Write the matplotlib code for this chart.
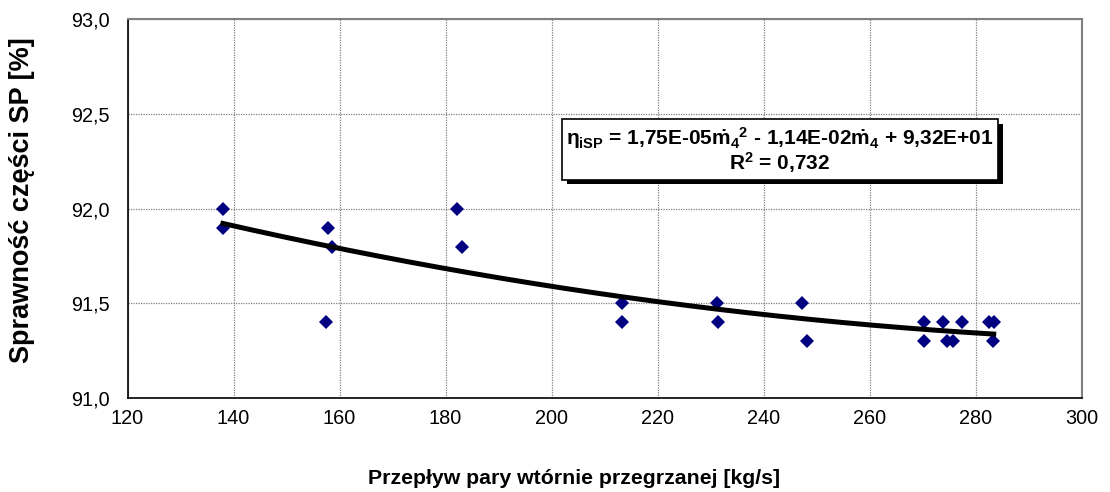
import matplotlib
matplotlib.use("Agg")
import matplotlib.pyplot as plt
import numpy as np
from matplotlib import patheffects

plt.rcParams["font.family"] = ["Liberation Sans", "DejaVu Sans"]
plt.rcParams["mathtext.fontset"] = "custom"
plt.rcParams["mathtext.rm"] = "Liberation Sans:bold"
plt.rcParams["mathtext.it"] = "Liberation Sans:bold"
plt.rcParams["mathtext.bf"] = "Liberation Sans:bold"

# Data
flow = [138.0, 138.0, 157.8, 158.5, 157.5, 182.2, 183.1, 213.2, 213.2, 231.2, 231.4,
        247.3, 248.1, 270.2, 270.2, 273.8, 274.5, 275.8, 277.5, 282.5, 283.4, 283.2]
efficiency = [92.0, 91.9, 91.9, 91.8, 91.4, 92.0, 91.8, 91.5, 91.4, 91.5, 91.4,
              91.5, 91.3, 91.4, 91.3, 91.4, 91.3, 91.3, 91.4, 91.4, 91.4, 91.3]

x_ticks = [120, 140, 160, 180, 200, 220, 240, 260, 280, 300]
y_ticks = [91.0, 91.5, 92.0, 92.5, 93.0]

x_label = "Przepływ pary wtórnie przegrzanej [kg/s]"
y_label = "Sprawność części SP [%]"
equation = "$\\eta_{iSP}$ = 1,75E-05$\\dot{m}_4{}^2$ - 1,14E-02$\\dot{m}_4$ + 9,32E+01\nR$^2$ = 0,732"

# Figure
fig = plt.figure(figsize=(11.1, 4.92), dpi=100)
ax = fig.add_axes([0.1149, 0.1904, 0.9745 - 0.1149, 0.9614 - 0.1904])

# Scatter points
ax.plot(flow, efficiency, "D", color="#000080", markersize=6.8, markeredgewidth=0, zorder=3)

# Polynomial trend line (2nd order) fitted to the points
coeffs = np.polyfit(flow, efficiency, 2)
xs = np.linspace(min(flow), max(flow), 200)
ax.plot(xs, np.polyval(coeffs, xs), color="black", linewidth=3.6, zorder=4)

# Axes setup
ax.set_xlim(120, 300)
ax.set_ylim(91.0, 93.0)
ax.set_xticks(x_ticks)
ax.set_yticks(y_ticks)
ax.set_xticklabels([str(t) for t in x_ticks])
ax.set_yticklabels([f"{t:.1f}".replace(".", ",") for t in y_ticks])
ax.tick_params(axis="both", length=0, labelsize=14.3, colors="black")
ax.tick_params(axis="x", pad=8)
ax.tick_params(axis="y", pad=13)

ax.grid(True, linestyle=(0, (1, 1)), color="#808080", linewidth=0.9)
ax.set_axisbelow(True)

for side in ("left", "bottom"):
    ax.spines[side].set_color("black")
    ax.spines[side].set_linewidth(1.2)
for side in ("top", "right"):
    ax.spines[side].set_color("#808080")
    ax.spines[side].set_linewidth(1.5)

# Axis titles
fig.text(0.517, 0.028, x_label, ha="center", va="center", fontsize=15.3, fontweight="bold")
fig.text(0.02, 1 - 200 / 492, y_label, ha="center", va="center", rotation=90,
         fontsize=19.5, fontweight="bold")

# Equation box with shadow
txt = ax.text(0.6838, 0.6546, equation, transform=ax.transAxes, ha="center", va="center",
              fontsize=15, fontweight="bold", linespacing=1.0, multialignment="center",
              bbox=dict(boxstyle="square,pad=0.2", facecolor="white", edgecolor="black",
                        linewidth=1.2), zorder=6)
txt.get_bbox_patch().set_path_effects([
    patheffects.SimplePatchShadow(offset=(3.5, -3.5), shadow_rgbFace="black", alpha=1),
    patheffects.Normal(),
])

fig.savefig("out.png", dpi=100)
